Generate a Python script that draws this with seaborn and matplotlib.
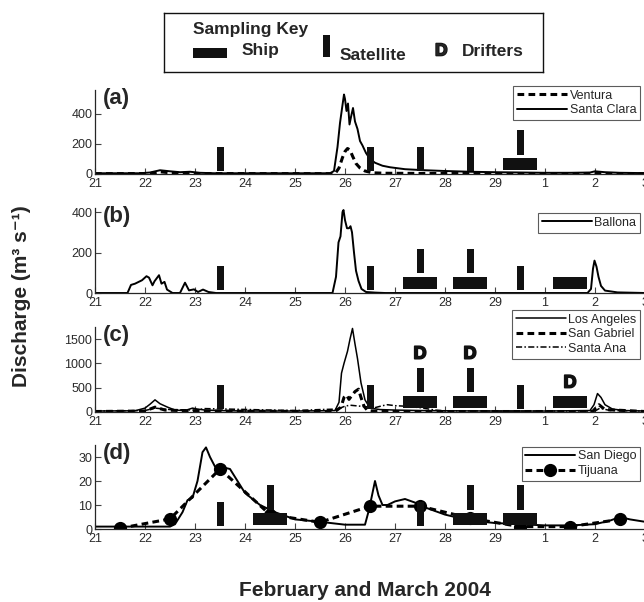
import matplotlib
matplotlib.use("Agg")
import matplotlib.pyplot as plt
import matplotlib.patheffects as pe
import seaborn as sns
import pandas as pd
from matplotlib.patches import Rectangle

# Day numbers counted through February 2004 (leap year): 1 March = day 30
tick_days = [21, 22, 23, 24, 25, 26, 27, 28, 29, 30, 31, 32]
tick_labels = ["21", "22", "23", "24", "25", "26", "27", "28", "29", "1", "2", "3"]

# ---------------- (a) Ventura and Santa Clara rivers
santa_clara_t = [21.0, 21.9, 22.1, 22.3, 22.5, 22.7, 22.9, 23.1, 23.4, 25.7, 25.78,
                 25.85, 25.9, 25.95, 25.98, 26.0, 26.03, 26.06, 26.09, 26.12, 26.16,
                 26.2, 26.25, 26.3, 26.35, 26.42, 26.5, 26.6, 26.75, 26.9, 27.2, 27.6,
                 28.0, 28.5, 29.0, 29.5, 30.0, 30.5, 30.9, 31.0, 31.2, 31.5, 32.0]
santa_clara_q = [5, 5, 10, 25, 18, 12, 15, 8, 5, 5, 20,
                 180, 340, 460, 530, 500, 420, 470, 330, 380, 440,
                 350, 300, 220, 190, 140, 100, 75, 55, 45, 32, 25,
                 20, 15, 12, 10, 8, 8, 10, 18, 12, 8, 6]
ventura_t = [21.0, 22.1, 22.3, 22.5, 23.0, 25.8, 25.88, 25.95, 26.0, 26.05, 26.1,
             26.15, 26.22, 26.3, 26.4, 26.55, 26.8, 28.0, 30.0, 31.0, 32.0]
ventura_q = [2, 3, 15, 8, 3, 2, 40, 110, 150, 170, 160,
             120, 70, 40, 20, 8, 5, 3, 2, 3, 2]

# ---------------- (b) Ballona Creek
ballona_t = [21.0, 21.65, 21.72, 21.8, 21.94, 22.03, 22.08, 22.15, 22.19, 22.28,
             22.33, 22.39, 22.44, 22.55, 22.7, 22.8, 22.88, 22.98, 23.06, 23.16,
             23.27, 23.42, 25.75, 25.82, 25.87, 25.91, 25.95, 25.97, 26.0, 26.04,
             26.08, 26.11, 26.14, 26.18, 26.22, 26.27, 26.33, 26.42, 26.6, 26.8,
             30.85, 30.92, 30.96, 30.99, 31.03, 31.07, 31.12, 31.2, 31.45, 32.0]
ballona_q = [0, 0, 40, 46, 63, 83, 76, 38, 58, 88,
             46, 55, 17, 0, 0, 51, 13, 18, 5, 17,
             5, 0, 0, 80, 250, 280, 400, 410, 360, 320,
             320, 330, 300, 200, 110, 60, 20, 5, 2, 0,
             0, 20, 120, 160, 130, 80, 35, 12, 3, 0]

# ---------------- (c) Los Angeles, San Gabriel and Santa Ana rivers
los_angeles_t = [21.0, 21.8, 22.0, 22.1, 22.2, 22.3, 22.45, 22.6, 22.8, 22.95, 23.05,
                 23.2, 23.5, 24.0, 25.0, 25.5, 25.8, 25.88, 25.93, 25.98, 26.05, 26.1,
                 26.15, 26.2, 26.25, 26.32, 26.4, 26.5, 26.7, 27.0, 27.5, 28.0, 29.0,
                 30.0, 30.9, 30.98, 31.05, 31.12, 31.2, 31.35, 31.6, 32.0]
los_angeles_q = [20, 25, 80, 160, 250, 170, 100, 40, 30, 80, 60,
                 40, 30, 20, 20, 25, 30, 200, 800, 1000, 1250, 1500,
                 1720, 1400, 1100, 600, 250, 80, 50, 40, 30, 25, 20,
                 20, 30, 150, 380, 300, 150, 60, 30, 20]
san_gabriel_t = [21.0, 22.0, 22.2, 22.4, 23.0, 25.8, 25.92, 25.98, 26.03, 26.08,
                 26.13, 26.2, 26.27, 26.32, 26.38, 26.45, 26.6, 27.0, 29.0, 30.95,
                 31.08, 31.2, 32.0]
san_gabriel_q = [10, 20, 100, 40, 20, 10, 100, 300, 350, 260,
                 330, 420, 470, 300, 120, 30, 15, 10, 10, 10,
                 150, 50, 10]
santa_ana_t = [21.0, 22.0, 22.2, 22.5, 23.0, 23.2, 25.0, 25.5, 25.85, 26.0, 26.1,
               26.2, 26.4, 26.6, 26.75, 26.85, 27.0, 27.2, 27.5, 27.8, 28.0, 29.0,
               31.0, 31.1, 31.3, 32.0]
santa_ana_q = [20, 30, 80, 50, 40, 70, 30, 50, 60, 120, 140,
               130, 110, 90, 130, 150, 130, 120, 90, 40, 25, 20,
               20, 80, 30, 20]

# ---------------- (d) San Diego and Tijuana rivers
san_diego_t = [21.0, 22.5, 22.6, 22.75, 22.85, 22.95, 23.05, 23.15, 23.22, 23.3, 23.4,
               23.5, 23.6, 23.7, 23.85, 24.0, 24.3, 24.6, 25.0, 25.5, 26.0, 26.4,
               26.48, 26.55, 26.6, 26.67, 26.75, 26.85, 27.0, 27.2, 27.4, 27.6, 28.0,
               28.5, 29.0, 29.5, 30.0, 30.5, 31.0, 31.3, 31.5, 31.7, 32.0]
san_diego_q = [1, 1, 2, 7, 12, 13, 20, 32, 34, 30, 26,
               24, 25.5, 25, 20, 15, 10, 7, 4, 3, 1.8, 1.8,
               8, 15, 20, 14, 10, 10, 11.5, 12.5, 11, 9, 6,
               3.5, 2.5, 2, 1.5, 1.5, 2, 3.5, 5, 4, 3]
tijuana_t = [21.5, 22.5, 23.5, 24.5, 25.5, 26.5, 27.5, 28.5, 29.5, 30.5, 31.5]
tijuana_q = [0.3, 4.2, 25, 6, 2.8, 9.5, 9.5, 4.5, 1, 1, 4]

# ---------------- Sampling schedule (ship cruises, satellite passes, drifter releases)
satellite_a = [23.5, 26.5, 27.5, 28.5, 29.5]
ship_a = [29.5]
drifters_a = []
satellite_b = [23.5, 26.5, 27.5, 28.5, 29.5]
ship_b = [27.5, 28.5, 30.5]
drifters_b = []
satellite_c = [23.5, 26.5, 27.5, 28.5, 29.5]
ship_c = [27.5, 28.5, 30.5]
drifters_c = [27.5, 28.5, 30.5]
satellite_d = [23.5, 24.5, 27.5, 28.5, 29.5]
ship_d = [24.5, 28.5, 29.5]
drifters_d = []

sns.set_style("ticks")
plt.rcParams["font.family"] = ["Liberation Sans", "DejaVu Sans"]
plt.rcParams["axes.linewidth"] = 0.9

W, H = 644, 602
fig = plt.figure(figsize=(W / 100, H / 100), dpi=100)


def axes_px(left, top, right, bottom):
    return fig.add_axes([left / W, 1 - bottom / H, (right - left) / W, (bottom - top) / H])


SAT_W = 0.14
SHIP_W = 0.68
HEAVY = [pe.withStroke(linewidth=1.2, foreground="#111111")]


def draw_sampling(ax, sats, ships, drifters):
    tr = ax.get_xaxis_transform()
    for d in ships:
        ax.add_patch(Rectangle((d - SHIP_W / 2, 0.05), SHIP_W, 0.14, transform=tr,
                               facecolor="#111111", lw=0, zorder=6))
    for d in sats:
        y0 = 0.23 if d in ships else 0.03
        ax.add_patch(Rectangle((d - SAT_W / 2, y0), SAT_W, 0.29, transform=tr,
                               facecolor="#111111", lw=0, zorder=6))
    for d in drifters:
        y = 0.68 if d in sats else 0.34
        ax.text(d, y, "D", transform=tr, ha="center", va="center",
                fontsize=13, fontweight="heavy", color="#111111", zorder=7,
                path_effects=HEAVY)


def style_axes(ax, ymax, yticks, label, leg_anchor):
    ax.set_xlim(21, 32)
    ax.set_ylim(0, ymax)
    ax.set_xticks(tick_days)
    ax.set_xticklabels(tick_labels)
    ax.set_yticks(yticks)
    ax.set_xlabel("")
    ax.set_ylabel("")
    ax.tick_params(direction="in", length=4, width=0.8, labelsize=9,
                   labelcolor="#2a2a2a", color="#444444", pad=2)
    ax.tick_params(axis="x", pad=3)
    sns.despine(ax=ax)
    ax.text(0.015, 1.02, label, transform=ax.transAxes, ha="left", va="top",
            fontsize=16, fontweight="bold")
    leg = ax.legend(loc="upper right", bbox_to_anchor=leg_anchor, frameon=True,
                    fancybox=False, edgecolor="#333333", fontsize=9,
                    handlelength=4.0, handletextpad=0.2, labelspacing=0.2,
                    borderpad=0.3, borderaxespad=0)
    leg.get_frame().set_linewidth(0.8)
    leg.set_zorder(10)


LINE = dict(color="black", lw=1.4)
DASH = dict(color="black", lw=2.2, dashes=(2.2, 1.4))

# (a)
ax = axes_px(95, 90, 645, 174)
sns.lineplot(x=ventura_t, y=ventura_q, ax=ax, label="Ventura", **DASH)
sns.lineplot(x=santa_clara_t, y=santa_clara_q, ax=ax, label="Santa Clara", **LINE)
draw_sampling(ax, satellite_a, ship_a, drifters_a)
style_axes(ax, 560, [0, 200, 400], "(a)", (0.991, 1.05))

# (b)
ax = axes_px(95, 208, 645, 293)
sns.lineplot(x=ballona_t, y=ballona_q, ax=ax, label="Ballona", **LINE)
draw_sampling(ax, satellite_b, ship_b, drifters_b)
style_axes(ax, 420, [0, 200, 400], "(b)", (0.991, 0.94))

# (c)
ax = axes_px(95, 327, 645, 412)
sns.lineplot(x=los_angeles_t, y=los_angeles_q, ax=ax, label="Los Angeles", color="black", lw=1.1)
sns.lineplot(x=san_gabriel_t, y=san_gabriel_q, ax=ax, label="San Gabriel", **DASH)
sns.lineplot(x=santa_ana_t, y=santa_ana_q, ax=ax, label="Santa Ana",
             color="black", lw=1.1, dashes=(4, 1.5, 1, 1.5))
draw_sampling(ax, satellite_c, ship_c, drifters_c)
style_axes(ax, 1750, [0, 500, 1000, 1500], "(c)", (0.991, 1.2))

# (d)
ax = axes_px(95, 445, 645, 529)
sns.lineplot(x=san_diego_t, y=san_diego_q, ax=ax, label="San Diego", **LINE)
sns.lineplot(x=tijuana_t, y=tijuana_q, ax=ax, label="Tijuana", marker="o",
             markersize=9.5, markeredgewidth=0, **DASH)
draw_sampling(ax, satellite_d, ship_d, drifters_d)
style_axes(ax, 35, [0, 10, 20, 30], "(d)", (0.991, 0.98))

# Axis titles shared by the four panels
fig.text(22 / W, 1 - 296 / H, "Discharge (m³ s⁻¹)", rotation=90,
         ha="center", va="center", fontsize=15, fontweight="bold")
fig.text(365 / W, 1 - 590 / H, "February and March 2004", ha="center", va="center",
         fontsize=15, fontweight="bold")

# Sampling key box
kx0, ky0, kx1, ky1 = 164, 13, 543, 72
kax = axes_px(kx0, ky0, kx1, ky1)
kax.set_xlim(0, kx1 - kx0)
kax.set_ylim(ky1 - ky0, 0)
kax.set_xticks([])
kax.set_yticks([])
for s in kax.spines.values():
    s.set_linewidth(1.0)
    s.set_color("#111111")
kax.text(29, 21, "Sampling Key", fontsize=12.5, fontweight="bold", va="baseline")
kax.add_patch(Rectangle((29, 35), 34, 10, facecolor="#111111", lw=0))
kax.text(78, 42.5, "Ship", fontsize=12.5, fontweight="bold", va="baseline")
kax.add_patch(Rectangle((159, 22), 7, 22, facecolor="#111111", lw=0))
kax.text(176, 46.5, "Satellite", fontsize=12.5, fontweight="bold", va="baseline")
kax.text(271, 42.5, "D", fontsize=12.5, fontweight="heavy", va="baseline",
         path_effects=HEAVY)
kax.text(298, 42.5, "Drifters", fontsize=12.5, fontweight="bold", va="baseline")

fig.savefig("out.png", dpi=100)
